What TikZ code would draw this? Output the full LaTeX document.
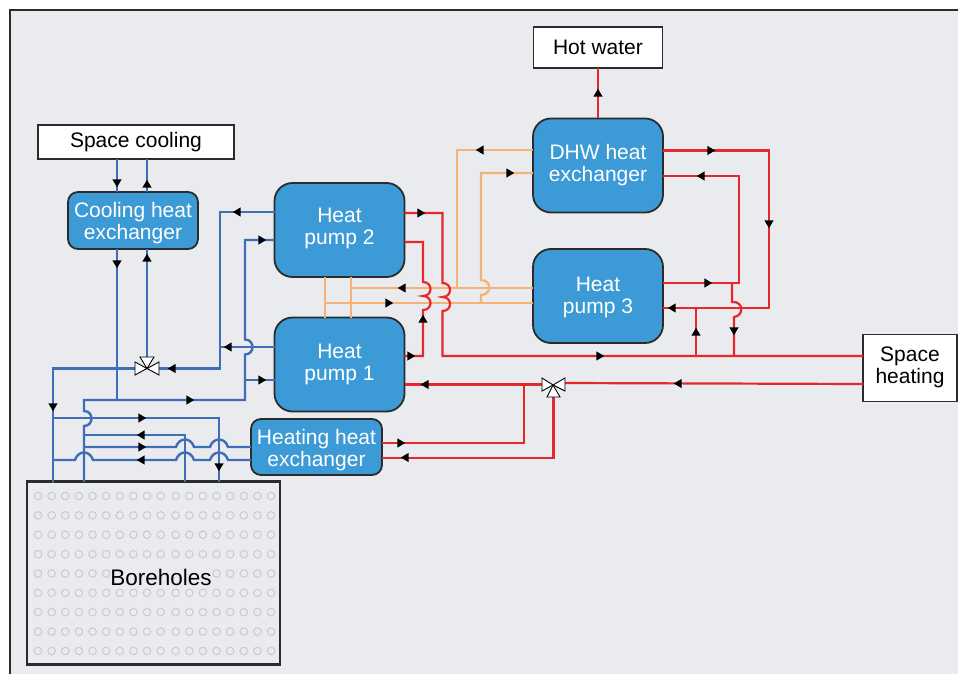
\documentclass[tikz,border=0pt]{standalone}
\usepackage{fontspec}
\setmainfont{Liberation Sans}
\definecolor{panelc}{HTML}{EAEBEE}
\definecolor{nodec}{HTML}{3C9BD6}
\definecolor{edgec}{HTML}{2B2B2B}
\definecolor{bluec}{HTML}{3F6DB8}
\definecolor{redc}{HTML}{E5282B}
\definecolor{orangec}{HTML}{F5B176}
\definecolor{holec}{HTML}{C9CBCD}
\tikzset{
  unit/.style={draw=edgec,line width=1.8pt,fill=nodec,text=white,align=center,inner sep=0pt,outer sep=0pt,font=\fontsize{21}{22}\selectfont},
  bigunit/.style={unit,rounded corners=18pt,minimum width=130pt,minimum height=94pt},
  smallunit/.style={unit,rounded corners=10pt,minimum width=130pt,minimum height=57pt},
  endbox/.style={draw=edgec,line width=1.8pt,fill=white,text=black,align=center,inner sep=0pt,outer sep=0pt,font=\fontsize{21}{22}\selectfont},
  bluepipe/.style={draw=bluec,line width=2.4pt,line join=miter},
  redpipe/.style={draw=redc,line width=2.2pt,line join=miter},
  orangepipe/.style={draw=orangec,line width=2.2pt,line join=miter},
  valvepart/.style={draw=black,fill=white,line width=0.9pt,line join=miter},
  hole/.style={draw=holec,line width=1pt}
}
\newcommand{\ah}[3]{\fill[black,shift={(#1,#2)},rotate=#3] (4.2,0)--(-3.6,4.6)--(-3.6,-4.6)--cycle;}
\newcommand{\twolines}[3]{\raisebox{#1}[0pt][0pt]{\begin{tabular}{@{}c@{}}#2\\#3\end{tabular}}}
\def\bumpup{.. controls +(10,0) and +(10,0) .. ++(0,-15)}
\def\bumpdn{.. controls +(10,0) and +(10,0) .. ++(0,14)}
\def\hump{.. controls +(3,-10) and +(-3,-10) .. ++(18,0)}
\begin{document}
\begin{tikzpicture}[x=1pt,y=-1pt]
\useasboundingbox (0,0) rectangle (958,674);
\fill[panelc] (10,10) rectangle (958,674);
\draw[edgec,line width=1.6pt] (10,674) -- (10,10) -- (958,10);

% nodes
\node[bigunit] (hp2) at (339.5,230) {\twolines{-4.25pt}{Heat}{pump 2}};
\node[bigunit] (hp1) at (339.5,364.5) {\twolines{-6.25pt}{Heat}{pump 1}};
\node[bigunit] (hp3) at (598,296) {\twolines{-7.25pt}{Heat}{pump 3}};
\node[bigunit] (dhw) at (598,165.5) {\twolines{-6.25pt}{DHW heat}{exchanger}};
\node[smallunit] (chx) at (133,220.5) {\twolines{-9.25pt}{Cooling heat}{exchanger}};
\node[smallunit,minimum width=131pt,minimum height=56pt] (hhx) at (316.5,447) {\twolines{-9.25pt}{Heating heat}{exchanger}};
\node[endbox,minimum width=196pt,minimum height=34pt] (sc) at (136,142) {Space cooling};
\node[endbox,minimum width=129pt,minimum height=41pt] (hw) at (598,47.5) {Hot water};
\node[endbox,minimum width=94pt,minimum height=67pt] (sh) at (910,368) {\begin{tabular}{@{}c@{}}Space\\heating\end{tabular}};
\node[draw=edgec,line width=2.2pt,fill=panelc,inner sep=0pt,outer sep=0pt,minimum width=253pt,minimum height=183pt] (bore) at (153.5,573) {};

% boreholes
\foreach \r in {0,...,8}{
  \foreach \c in {0,...,9}{
    \pgfmathsetmacro{\xx}{38+13.63*\c}
    \pgfmathsetmacro{\yy}{496+19.37*\r}
    \pgfmathparse{(\r==4 && \xx>110) ? 0 : 1}
    \ifnum\pgfmathresult=1 \draw[hole] (\xx,\yy) circle (3.8pt);\fi
  }
  \foreach \c in {0,...,7}{
    \pgfmathsetmacro{\xx}{175.7+13.62*\c}
    \pgfmathsetmacro{\yy}{496+19.37*\r}
    \pgfmathparse{(\r==4 && \xx<210) ? 0 : 1}
    \ifnum\pgfmathresult=1 \draw[hole] (\xx,\yy) circle (3.8pt);\fi
  }
}
\node[font=\fontsize{22.5}{24}\selectfont,text=black,inner sep=0pt] (borelabel) at (161,577.5) {Boreholes};

% valves
\coordinate (v1) at (147,368.5);
\coordinate (v1l) at (135,368.5);
\coordinate (v1r) at (159,368.5);
\coordinate (v1t) at (147,357);
\coordinate (v2) at (553,385);
\coordinate (v2l) at (542,384.5);
\coordinate (v2r) at (565,383);
\coordinate (v2b) at (553.5,397);

% orange pipes
\path[orangepipe] (325,0 |- hp2.south) -- (325,0 |- hp1.north);
\path[orangepipe] (351,0 |- hp2.south) -- (351,0 |- hp1.north);
\path[orangepipe] (351,288) -- (hp3.west |- 0,288);
\path[orangepipe] (325,303) -- (hp3.west |- 0,303);
\path[orangepipe] (457,288) -- (457,150) -- (dhw.west |- 0,150);
\path[orangepipe] (481,303) -- (481,295) .. controls +(11,0) and +(11,0) .. (481,280) -- (481,173) -- (dhw.west |- 0,173);

% blue pipes
\path[bluepipe] (117,0 |- sc.south) -- (117,0 |- chx.north);
\path[bluepipe] (147,0 |- chx.north) -- (147,0 |- sc.south);
\path[bluepipe] (117,0 |- chx.south) -- (117,400);
\path[bluepipe] (147,0 |- chx.south) -- (v1t);
\path[bluepipe] (84,482) -- (84,426) \bumpup -- (84,400) -- (245,400) -- (245,354.5) \bumpup -- (245,240) -- (hp2.west |- 0,240);
\path[bluepipe] (245,380) -- (hp1.west |- 0,380);
\path[bluepipe] (hp2.west |- 0,212) -- (220,212) -- (220,368.5) -- (v1r);
\path[bluepipe] (hp1.west |- 0,347) -- (220,347);
\path[bluepipe] (v1l) -- (53,368.5) -- (53,483);
\path[bluepipe] (53,418) -- (219,418) -- (219,0 |- bore.north);
\path[bluepipe] (84,435) -- (185,435) -- (185,0 |- bore.north);
\path[bluepipe] (84,447) -- (176,447) \hump -- (210,447) \hump -- (hhx.west |- 0,447);
\path[bluepipe] (53,460) -- (75,460) \hump -- (176,460) \hump -- (210,460) \hump -- (hhx.west |- 0,460);

% red pipes
\path[redpipe] (hw.south) -- (dhw.north);
\path[redpipe] (hp2.east |- 0,213) -- (442.5,213) -- (442.5,283) \bumpdn \bumpdn -- (442.5,356) -- (sh.west |- 0,356);
\path[redpipe] (hp2.east |- 0,242) -- (423,242) -- (423,282) \bumpdn \bumpdn -- (423,356) -- (hp1.east |- 0,356);
\path[redpipe] (v2l) -- (hp1.east |- 0,384.5);
\path[redpipe] (524,384.5) -- (524,443) -- (hhx.east |- 0,443);
\path[redpipe] (v2b) -- (553.5,458) -- (hhx.east |- 0,458);
\path[redpipe] (v2r) -- (sh.west |- 0,384);
\path[redpipe] (dhw.east |- 0,150.5) -- (769,150.5) -- (769,308) -- (hp3.east |- 0,308);
\path[redpipe] (dhw.east |- 0,176) -- (739,176) -- (739,283) -- (hp3.east |- 0,283);
\path[redpipe] (732,283) -- (732,302) .. controls (744,301) and (744,316) .. (734,317) -- (734,356);
\path[redpipe] (696,308) -- (696,356);

% valves on top
\path[valvepart] (v1) -- (135,362) -- (135,375) -- cycle;
\path[valvepart] (v1) -- (159,362) -- (159,375) -- cycle;
\path[valvepart] (v1) -- (140,357) -- (154,357) -- cycle;
\path[valvepart] (v2) -- (542,378) -- (542,391) -- cycle;
\path[valvepart] (v2) -- (565,378) -- (565,391) -- cycle;
\path[valvepart] (v2) -- (547,397) -- (560,397) -- cycle;

% arrowheads
\ah{117}{183}{-90}\ah{147}{184}{90}\ah{117}{264}{-90}\ah{147}{258}{90}
\ah{237}{212}{180}\ah{262}{240}{0}\ah{228}{347}{180}\ah{262}{380}{0}
\ah{172}{368.5}{180}\ah{190}{400}{0}\ah{53}{407}{-90}
\ah{142}{418}{0}\ah{141}{435}{180}\ah{142}{447}{0}\ah{141}{460}{180}\ah{219}{467}{-90}
\ah{402}{288}{180}\ah{389}{303}{0}\ah{480}{150}{180}\ah{510}{173}{0}
\ah{421}{213}{0}\ah{423}{319}{90}\ah{411}{356}{0}\ah{600}{356}{0}
\ah{425}{384.5}{180}\ah{401}{443}{0}\ah{405}{457.5}{180}\ah{678}{383.5}{180}
\ah{598}{93}{90}\ah{711}{150.5}{0}\ah{701}{176}{180}\ah{769}{224}{-90}
\ah{708}{283}{0}\ah{672}{308}{180}\ah{734}{331}{-90}\ah{696}{332}{90}
\end{tikzpicture}
\end{document}
